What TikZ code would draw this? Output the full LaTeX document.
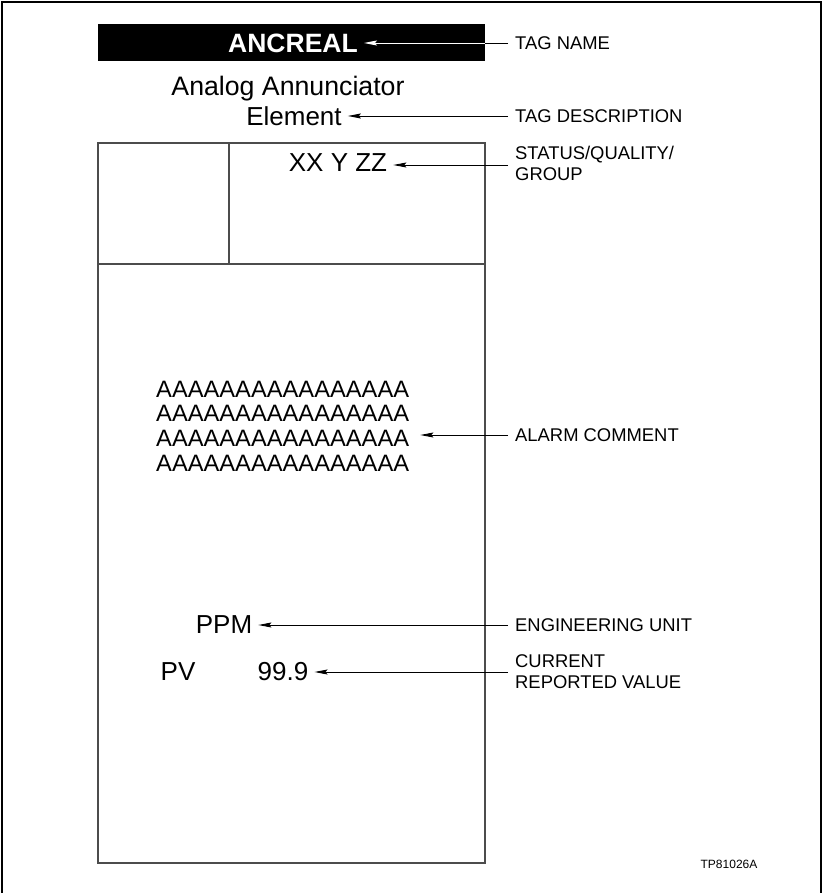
\documentclass[tikz,border=0pt]{standalone}
\usepackage{fontspec}
\setmainfont{Liberation Sans}
\usetikzlibrary{arrows.meta}
\begin{document}
\begin{tikzpicture}[x=1pt,y=-1pt,
  big/.style={inner sep=0pt,font=\fontsize{26}{31}\selectfont},
  aline/.style={inner sep=0pt,anchor=west,font=\fontsize{23.7}{28}\selectfont},
  lab/.style={inner xsep=7pt,inner ysep=0pt,anchor=west,align=left,font=\fontsize{18.4}{21}\selectfont},
  arr/.style={line width=0.9pt,-{Stealth[length=13pt,width=5pt,inset=2pt]}},
  boxline/.style={draw=black!70,line width=1.3pt}]
\useasboundingbox (0,0) rectangle (823,893);
% outer frame (top, left, right)
\draw[line width=2pt] (2,893) -- (2,2) -- (821,2) -- (821,893);
% black title bar
\fill[black] (98,24) rectangle (485,61);
\node[inner sep=0pt,text=white,font=\fontsize{26.5}{31}\selectfont\bfseries] (tag) at (293,43) {ANCREAL};
\node[big,anchor=base,font=\fontsize{26.7}{31}\selectfont] (desc1) at (288,96) {Analog Annunciator};
\node[big] (desc2) at (294,116) {Element};
% display box
\draw[boxline] (98,143) rectangle (485,863);
\draw[boxline] (229,143) -- (229,264);
\draw[boxline] (98,264) -- (485,264);
\node[big] (stat) at (338,163) {XX Y ZZ};
\node[aline] (a1) at (156,389) {AAAAAAAAAAAAAAAA};
\node[aline] (a2) at (156,413.7) {AAAAAAAAAAAAAAAA};
\node[aline] (a3) at (156,438.5) {AAAAAAAAAAAAAAAA};
\node[aline] (a4) at (156,463.2) {AAAAAAAAAAAAAAAA};
\node[big] (eu) at (224,625) {PPM};
\node[big] (pv) at (178,672) {PV};
\node[big] (val) at (283,672) {99.9};
% labels
\node[lab] (ltag) at (508,43) {TAG NAME};
\node[lab] (ldesc) at (508,116) {TAG DESCRIPTION};
\node[lab,anchor=north west] (lstat) at (508,146) {STATUS/QUALITY/\\GROUP};
\node[lab] (lalarm) at (508,435) {ALARM COMMENT};
\node[lab] (leu) at (508,625) {ENGINEERING UNIT};
\node[lab,anchor=north west] (lval) at (508,654) {CURRENT\\REPORTED VALUE};
\node[inner sep=0pt,font=\fontsize{12}{14}\selectfont] (tp) at (729,864) {TP81026A};
% arrows
\draw[arr,white] (tag.east -| ltag.west) -- ([xshift=6pt]tag.east);
\draw[line width=0.9pt] (tag.east -| ltag.west) -- (485,43);
\draw[arr] (desc2.east -| ldesc.west) -- ([xshift=6pt]desc2.east);
\draw[arr] ([yshift=-2pt]stat.east -| lstat.west) -- ([xshift=6pt,yshift=-2pt]stat.east);
\draw[arr] (lalarm.west) -- ([xshift=11pt]lalarm.west -| a3.east);
\draw[arr] (eu.east -| leu.west) -- ([xshift=6pt]eu.east);
\draw[arr] (val.east -| lval.west) -- ([xshift=6pt]val.east);
\end{tikzpicture}
\end{document}
